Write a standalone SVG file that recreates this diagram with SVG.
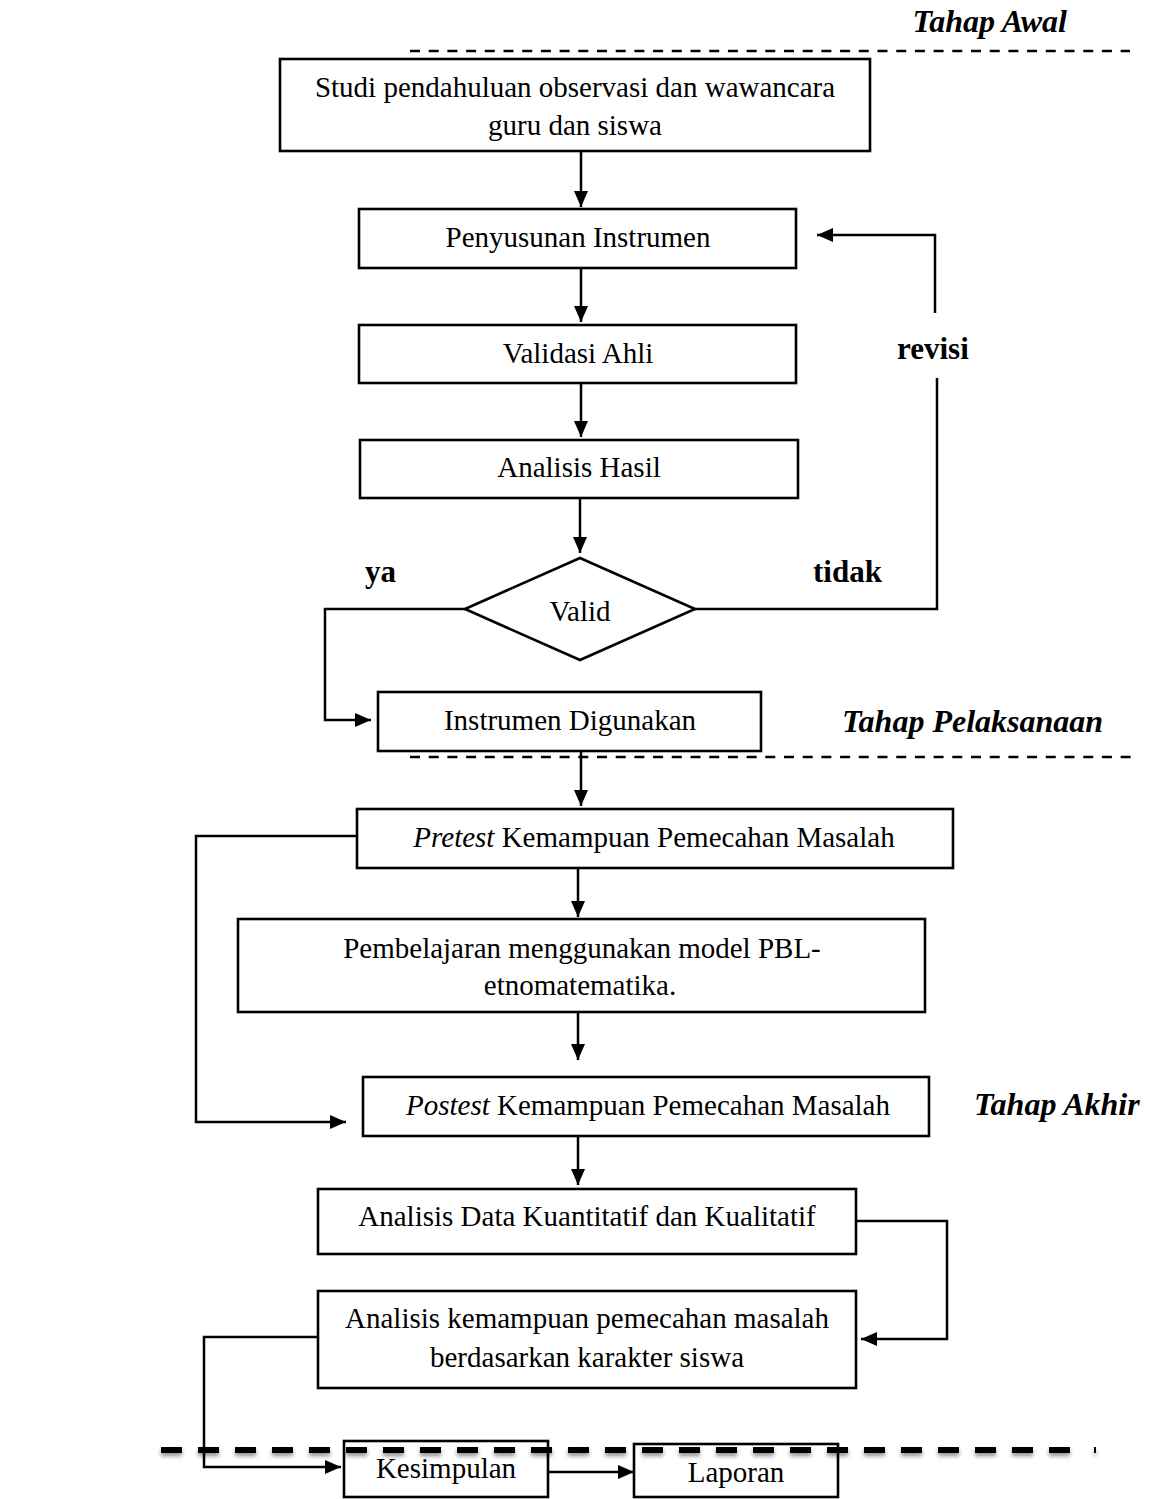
<svg xmlns="http://www.w3.org/2000/svg" width="1156" height="1499" viewBox="0 0 1156 1499">
<defs>
<style>
.box{fill:#fff;stroke:#000;stroke-width:2.6}
.t{font-family:"Liberation Serif","Times New Roman",serif;font-size:29px;fill:#000;text-anchor:middle}
.lb{font-family:"Liberation Serif","Times New Roman",serif;font-size:31px;font-weight:bold;fill:#000}
.st{font-family:"Liberation Serif","Times New Roman",serif;font-size:32px;font-weight:bold;font-style:italic;fill:#000}
.ln{fill:none;stroke:#000;stroke-width:2.5}
.arr{fill:none;stroke:#000;stroke-width:2.5;marker-end:url(#ah)}
.dash{stroke:#000;stroke-width:2.5;stroke-dasharray:10 8.7}
</style>
<marker id="ah" viewBox="0 0 16 14" refX="16" refY="7" markerWidth="16" markerHeight="14" markerUnits="userSpaceOnUse" orient="auto">
<path d="M0,0 L16,7 L0,14 z" fill="#000"/>
</marker>
<filter id="sh" filterUnits="userSpaceOnUse" x="140" y="1430" width="980" height="45">
<feGaussianBlur in="SourceAlpha" stdDeviation="2"/>
<feOffset dx="0" dy="3" result="b"/>
<feComponentTransfer><feFuncA type="linear" slope="0.45"/></feComponentTransfer>
<feMerge><feMergeNode/><feMergeNode in="SourceGraphic"/></feMerge>
</filter>
</defs>
<rect width="1156" height="1499" fill="#fff"/>

<g id="stages">
<text class="st" x="1067" y="32" text-anchor="end">Tahap Awal</text>
<line class="dash" x1="410" y1="51" x2="1130" y2="51"/>
<text class="st" x="842" y="732">Tahap Pelaksanaan</text>
<line class="dash" x1="410" y1="757" x2="1136" y2="757"/>
<text class="st" x="974" y="1115">Tahap Akhir</text>
</g>

<g id="connectors">
<line class="arr" x1="581" y1="152" x2="581" y2="207"/>
<line class="arr" x1="581" y1="269" x2="581" y2="322"/>
<line class="arr" x1="581" y1="384" x2="581" y2="437"/>
<line class="arr" x1="580" y1="499" x2="580" y2="553"/>
<polyline class="ln" points="695,609 937,609 937,378"/>
<polyline class="arr" points="935,313 935,235 817,235"/>
<polyline class="arr" points="465,609 325,609 325,720 371,720"/>
<line class="arr" x1="581" y1="752" x2="581" y2="806"/>
<polyline class="arr" points="357,836 196,836 196,1122 346,1122"/>
<line class="arr" x1="578" y1="869" x2="578" y2="917"/>
<line class="arr" x1="578" y1="1013" x2="578" y2="1060"/>
<line class="arr" x1="578" y1="1137" x2="578" y2="1185"/>
<polyline class="arr" points="856,1221 947,1221 947,1339 861,1339"/>
<polyline class="arr" points="318,1337 204,1337 204,1467 341,1467"/>
<line class="arr" x1="548" y1="1472" x2="634" y2="1472"/>
</g>

<g id="labels">
<text class="lb" x="365" y="582">ya</text>
<text class="lb" x="813" y="582">tidak</text>
<text class="lb" x="897" y="359">revisi</text>
</g>

<g id="n-studi">
<rect class="box" x="280" y="59" width="590" height="92"/>
<text class="t" x="575" y="97">Studi pendahuluan observasi dan wawancara</text>
<text class="t" x="575" y="135">guru dan siswa</text>
</g>
<g id="n-penyusunan">
<rect class="box" x="359" y="209" width="437" height="59"/>
<text class="t" x="578" y="247">Penyusunan Instrumen</text>
</g>
<g id="n-validasi">
<rect class="box" x="359" y="325" width="437" height="58"/>
<text class="t" x="578" y="363">Validasi Ahli</text>
</g>
<g id="n-analisis">
<rect class="box" x="360" y="440" width="438" height="58"/>
<text class="t" x="579" y="477">Analisis Hasil</text>
</g>
<g id="n-valid">
<polygon class="box" points="580,558 695,609 580,660 465,609"/>
<text class="t" x="580" y="621">Valid</text>
</g>
<g id="n-instrumen">
<rect class="box" x="378" y="692" width="383" height="59"/>
<text class="t" x="570" y="730">Instrumen Digunakan</text>
</g>
<g id="n-pretest">
<rect class="box" x="357" y="809" width="596" height="59"/>
<text class="t" x="654" y="847"><tspan font-style="italic">Pretest</tspan> Kemampuan Pemecahan Masalah</text>
</g>
<g id="n-pbl">
<rect class="box" x="238" y="919" width="687" height="93"/>
<text class="t" x="582" y="958">Pembelajaran menggunakan model PBL-</text>
<text class="t" x="580" y="995">etnomatematika.</text>
</g>
<g id="n-postest">
<rect class="box" x="363" y="1077" width="566" height="59"/>
<text class="t" x="648" y="1115"><tspan font-style="italic">Postest</tspan> Kemampuan Pemecahan Masalah</text>
</g>
<g id="n-data">
<rect class="box" x="318" y="1189" width="538" height="65"/>
<text class="t" x="587" y="1226">Analisis Data Kuantitatif dan Kualitatif</text>
</g>
<g id="n-karakter">
<rect class="box" x="318" y="1291" width="538" height="97"/>
<text class="t" x="587" y="1328">Analisis kemampuan pemecahan masalah</text>
<text class="t" x="587" y="1367">berdasarkan karakter siswa</text>
</g>
<g id="n-kesimpulan">
<rect class="box" x="344" y="1441" width="204" height="56"/>
<text class="t" x="446" y="1478">Kesimpulan</text>
</g>
<g id="n-laporan">
<rect class="box" x="634" y="1444" width="204" height="53"/>
<text class="t" x="736" y="1482">Laporan</text>
</g>

<g id="divider-bottom" filter="url(#sh)">
<line x1="161" y1="1450" x2="1080" y2="1450" stroke="#000" stroke-width="6" stroke-dasharray="21 16"/>
<line x1="1094" y1="1450" x2="1096" y2="1450" stroke="#000" stroke-width="6"/>
</g>
</svg>
